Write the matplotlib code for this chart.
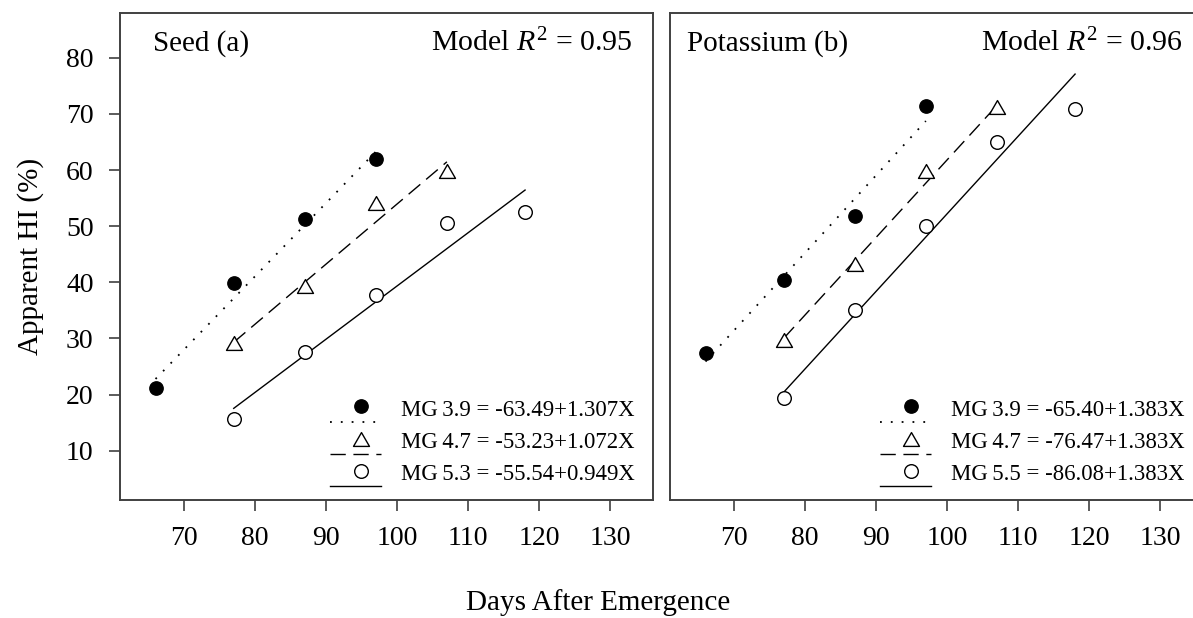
import matplotlib
matplotlib.use("Agg")
import matplotlib.pyplot as plt
from matplotlib.lines import Line2D
from matplotlib.path import Path
from matplotlib.legend_handler import HandlerBase

plt.rcParams['font.family'] = ['Liberation Serif', 'DejaVu Serif']
plt.rcParams['mathtext.fontset'] = 'custom'
plt.rcParams['mathtext.rm'] = 'Liberation Serif'
plt.rcParams['mathtext.it'] = 'Liberation Serif:italic'

# ---- data -------------------------------------------------------------
seed_x_39 = [66, 77, 87, 97]
seed_y_39 = [21.2, 39.9, 51.3, 62.0]
seed_x_47 = [77, 87, 97, 107]
seed_y_47 = [29.1, 39.4, 54.1, 59.9]
seed_x_53 = [77, 87, 97, 107, 118]
seed_y_53 = [15.6, 27.6, 37.8, 50.6, 52.6]

pot_x_39 = [66, 77, 87, 97]
pot_y_39 = [27.4, 40.4, 51.9, 71.5]
pot_x_47 = [77, 87, 97, 107]
pot_y_47 = [29.8, 43.2, 59.8, 71.2]
pot_x_55 = [77, 87, 97, 107, 118]
pot_y_55 = [19.3, 35.0, 50.1, 65.0, 70.9]

# fitted intercepts and slopes
seed_fit = {"3.9": (-63.49, 1.307), "4.7": (-53.23, 1.072), "5.3": (-55.54, 0.949)}
pot_fit = {"3.9": (-65.40, 1.383), "4.7": (-76.47, 1.383), "5.5": (-86.08, 1.383)}

seed_r2 = 0.95
pot_r2 = 0.96

x_ticks = [70, 80, 90, 100, 110, 120, 130]
y_ticks = [10, 20, 30, 40, 50, 60, 70, 80]

# ---- styles -----------------------------------------------------------
tri = Path([(-1, -0.866), (1, -0.866), (0, 0.866), (-1, -0.866)], closed=True)
styles = [
    dict(marker='o', ms=9.6, mfc='black', mec='black', ls=(0, (1, 5)), lw=1.3),
    dict(marker=tri, ms=11.5, mfc='white', mec='black', ls=(0, (11, 5.5)), lw=1.0),
    dict(marker='o', ms=9.8, mfc='white', mec='black', ls='-', lw=1.0),
]
spine_col = '#404040'


class MarkerAboveLine(HandlerBase):
    """Legend key: symbol on top, line sample slightly below it."""

    def __init__(self, drop=11.0, mpos=0.6, **kw):
        super().__init__(**kw)
        self.drop = drop
        self.mpos = mpos

    def create_artists(self, legend, orig_handle, xdescent, ydescent,
                       width, height, fontsize, trans):
        mk, ln = orig_handle
        yc = height / 2 - ydescent + 1
        x0 = -xdescent
        line = Line2D([x0, x0 + width], [yc - self.drop] * 2)
        line.update_from(ln)
        line.set_marker('')
        marker = Line2D([x0 + width * self.mpos], [yc])
        marker.update_from(mk)
        marker.set_linestyle('none')
        line.set_transform(trans)
        marker.set_transform(trans)
        return [line, marker]


def draw_panel(ax, series, fits, labels, title, r2, title_x):
    handles = []
    for (xs, ys), (b0, b1), st in zip(series, fits, styles):
        x_line = [min(xs), max(xs)]
        y_line = [b0 + b1 * v for v in x_line]
        ln, = ax.plot(x_line, y_line, color='black', ls=st['ls'], lw=st['lw'],
                      zorder=2)
        mk, = ax.plot(xs, ys, ls='none', marker=st['marker'], ms=st['ms'],
                      mfc=st['mfc'], mec=st['mec'], mew=1.0, zorder=3)
        handles.append((mk, ln))
    ax.set_xlim(61, 136)
    ax.set_ylim(1.2, 88)
    ax.set_xticks(x_ticks)
    ax.set_yticks(y_ticks)
    for sp in ax.spines.values():
        sp.set_color(spine_col)
        sp.set_linewidth(1.4)
    ax.tick_params(direction='out', length=8, width=1.2, color=spine_col,
                   pad=11, labelsize=20)
    ax.text(title_x, 0.938, title, transform=ax.transAxes, fontsize=21,
            ha='left', va='center')
    ax.text(0.962, 0.938, r"Model $R^2$ = %.2f" % r2, transform=ax.transAxes,
            fontsize=21.5, ha='right', va='center')
    ax.legend(handles, labels, handler_map={tuple: MarkerAboveLine()},
              loc='upper left', bbox_to_anchor=(0.394, 0.206),
              frameon=False, fontsize=16.4, handlelength=2.25,
              handletextpad=0.88, labelspacing=0.5, borderpad=0,
              borderaxespad=0)


fig = plt.figure(figsize=(11.93, 6.18), dpi=100)
ax1 = fig.add_axes([120 / 1193, 118 / 618, 533 / 1193, 487 / 618])
ax2 = fig.add_axes([670 / 1193, 118 / 618, 533 / 1193, 487 / 618])

fmt = "MG\u2009%s = %.2f+%.3fX"
seed_labels = [fmt % (k, *seed_fit[k]) for k in ("3.9", "4.7", "5.3")]
pot_labels = [fmt % (k, *pot_fit[k]) for k in ("3.9", "4.7", "5.5")]

draw_panel(ax1,
           [(seed_x_39, seed_y_39), (seed_x_47, seed_y_47), (seed_x_53, seed_y_53)],
           [seed_fit["3.9"], seed_fit["4.7"], seed_fit["5.3"]],
           seed_labels, "Seed (a)", seed_r2, 0.062)
draw_panel(ax2,
           [(pot_x_39, pot_y_39), (pot_x_47, pot_y_47), (pot_x_55, pot_y_55)],
           [pot_fit["3.9"], pot_fit["4.7"], pot_fit["5.5"]],
           pot_labels, "Potassium (b)", pot_r2, 0.032)
ax2.tick_params(left=False, labelleft=False)

ax1.set_ylabel("Apparent HI (%)", fontsize=21, labelpad=16)
fig.text(0.501, (618 - 603) / 618, "Days After Emergence", fontsize=21,
         ha='center', va='center')

fig.savefig("out.png", dpi=100)
